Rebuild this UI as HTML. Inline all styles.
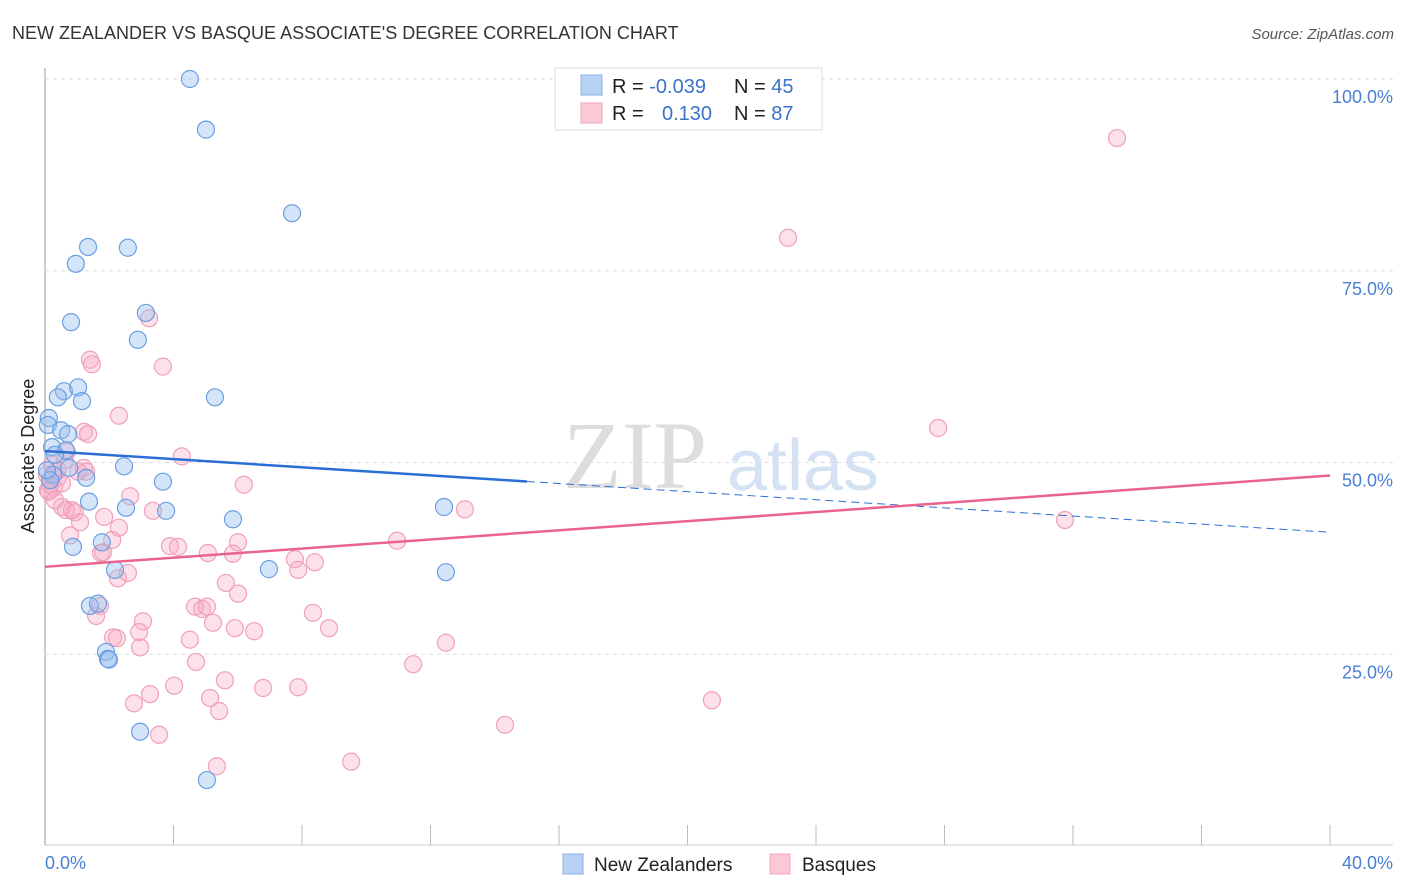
<!DOCTYPE html>
<html><head><meta charset="utf-8"><style>
body{margin:0;background:#fff;font-family:"Liberation Sans",sans-serif}
svg{display:block}
</style></head><body>
<svg id="c" width="1406" height="892">
<text x="12" y="39" font-size="18" fill="#333">NEW ZEALANDER VS BASQUE ASSOCIATE'S DEGREE CORRELATION CHART</text>
<text x="1394" y="39" font-size="15" fill="#555" font-style="italic" text-anchor="end">Source: ZipAtlas.com</text>
<text x="635" y="488" font-size="96" fill="#ddd" font-family="Liberation Serif,serif" text-anchor="middle">ZIP</text>
<text x="803" y="490" font-size="72" fill="#d4e2f4" text-anchor="middle">atlas</text>
<g id="grid"></g><g id="pts"></g><g id="lines"></g>
<text transform="translate(34,456) rotate(-90)" font-size="18" fill="#222" text-anchor="middle">Associate's Degree</text>
<g>
<rect x="555" y="68" width="267" height="62" fill="#fff" stroke="#ddd"/>
<rect x="581" y="75" width="21" height="20" fill="#b8d2f4" stroke="#8ab2e8"/>
<rect x="581" y="103" width="21" height="20" fill="#fcc8d6" stroke="#f0a6bc"/>
<text x="612" y="93" font-size="20" fill="#222">R = <tspan fill="#3a73cc">-0.039</tspan><tspan x="734">N = </tspan><tspan fill="#3a73cc">45</tspan></text>
<text x="612" y="120" font-size="20" fill="#222">R = <tspan x="662" fill="#3a73cc">0.130</tspan><tspan x="734">N = </tspan><tspan fill="#3a73cc">87</tspan></text>
</g>
<g>
<rect x="563" y="854" width="20" height="20" fill="#b8d2f4" stroke="#8ab2e8"/>
<text x="594" y="871" font-size="19" fill="#222">New Zealanders</text>
<rect x="770" y="854" width="20" height="20" fill="#fcc8d6" stroke="#f0a6bc"/>
<text x="802" y="871" font-size="19" fill="#222">Basques</text>
</g>
</svg>
<script>
const yTicks=[100,75,50,25];
const yTickLabels=["100.0%","75.0%","50.0%","25.0%"];
const xTicks=[0,4,8,12,16,20,24,28,32,36,40];
const blueX=[4.51,5.01,7.69,1.34,2.58,0.96,3.14,0.81,2.89,0.59,1.03,0.40,1.15,0.12,0.09,0.50,0.72,0.22,0.65,2.46,0.75,0.25,1.28,3.67,1.37,2.52,3.77,5.85,5.29,12.42,1.77,0.87,6.97,12.48,2.18,1.40,1.65,1.90,1.96,1.99,2.96,5.04,0.16,0.06,0.31];
const blueY=[100.0,93.4,82.5,78.1,78.0,75.9,69.5,68.3,66.0,59.3,59.8,58.5,58.0,55.8,54.9,54.2,53.7,52.0,51.6,49.5,49.3,48.4,48.0,47.5,44.9,44.1,43.7,42.6,58.5,44.2,39.6,39.0,36.1,35.7,36.0,31.3,31.6,25.3,24.4,24.3,14.9,8.6,47.7,49.0,51.0];
const pinkX=[33.37,23.13,3.24,1.40,1.46,3.67,2.30,1.21,1.34,4.26,27.80,0.68,1.21,1.03,0.40,0.16,0.28,0.12,0.53,6.19,2.65,0.53,0.65,0.93,3.36,13.07,31.75,1.09,1.84,2.30,2.09,0.78,6.01,3.89,4.14,10.96,1.74,5.07,5.85,7.78,8.40,7.88,2.27,5.63,6.01,4.67,4.89,5.04,1.71,1.59,3.05,8.34,5.23,5.91,6.51,8.84,2.93,2.12,2.24,4.51,2.96,12.48,4.70,11.46,5.60,4.02,6.79,7.88,3.27,5.14,2.77,5.42,20.76,14.32,3.55,5.35,9.53,0.06,0.22,0.40,0.84,2.58,0.09,0.31,1.81,1.28,0.62];
const pinkY=[92.3,79.3,68.8,63.4,62.8,62.5,56.1,54.0,53.7,50.8,54.5,51.4,49.3,48.8,48.0,47.1,46.7,46.2,47.3,47.1,45.6,44.2,43.8,43.5,43.7,43.9,42.5,42.2,42.9,41.5,39.9,40.5,39.6,39.1,39.0,39.8,38.2,38.2,38.1,37.4,37.0,36.0,34.9,34.3,32.9,31.2,30.9,31.2,31.3,30.0,29.3,30.4,29.1,28.4,28.0,28.4,27.9,27.2,27.1,26.9,25.9,26.5,24.0,23.7,21.6,20.9,20.6,20.7,19.8,19.3,18.6,17.6,19.0,15.8,14.5,10.4,11.0,48.4,49.7,49.0,43.8,35.6,46.4,45.1,38.3,48.8,50.3];
const blueTrend=[51.5,40.9], blueSolidEnd=15;
const pinkTrend=[36.4,48.3];
const NS="http://www.w3.org/2000/svg";
const X=v=>45+v/40*1285, Y=v=>846-v*7.67;
function mk(p,t,a){const e=document.createElementNS(NS,t);for(const k in a)e.setAttribute(k,a[k]);p.appendChild(e);return e;}
const g=document.getElementById('grid');
let ax=mk(g,'line',{x1:45,y1:68,x2:45,y2:845,stroke:'#bbb','stroke-width':1.5});


let bx=mk(g,'line',{x1:45,y1:845,x2:1393,y2:845,stroke:'#ccc','stroke-width':1});


yTicks.forEach((t,i)=>{
 const l=mk(g,'line',{x1:45,x2:1393,y1:Y(t),y2:Y(t),stroke:'#ddd','stroke-dasharray':'4,4'});
 
 
 const tx=mk(g,'text',{x:1393,y:Y(t)+24,'font-size':18,fill:'#4a7fd4','text-anchor':'end'});
 tx.textContent=yTickLabels[i];
 
 
});
xTicks.forEach(t=>{
 const l=mk(g,'line',{x1:X(t),x2:X(t),y1:825,y2:845,stroke:'#bbb'});
 
 
});
let x0=mk(g,'text',{x:45,y:869,'font-size':18,fill:'#4a7fd4'});x0.textContent='0.0%';


let x1=mk(g,'text',{x:1393,y:869,'font-size':18,fill:'#4a7fd4','text-anchor':'end'});x1.textContent='40.0%';


const p=document.getElementById('pts');
pinkX.forEach((v,i)=>{const c=mk(p,'circle',{cx:X(v),cy:Y(pinkY[i]),r:8.5,fill:'rgba(248,170,195,0.35)',stroke:'#f0a0b8','stroke-width':1.2});
 
 });
blueX.forEach((v,i)=>{const c=mk(p,'circle',{cx:X(v),cy:Y(blueY[i]),r:8.5,fill:'rgba(150,190,240,0.4)',stroke:'#6a9fe0','stroke-width':1.2});
 
 });
const L=document.getElementById('lines');
const by=x=>blueTrend[0]+(blueTrend[1]-blueTrend[0])*x/40;
let b1=mk(L,'line',{x1:X(0),y1:Y(by(0)),x2:X(blueSolidEnd),y2:Y(by(blueSolidEnd)),stroke:'#2a6fd6','stroke-width':2.5});


let b2=mk(L,'line',{x1:X(blueSolidEnd),y1:Y(by(blueSolidEnd)),x2:X(40),y2:Y(by(40)),stroke:'#2a6fd6','stroke-width':1,'stroke-dasharray':'8,5'});


let pl=mk(L,'line',{x1:X(0),y1:Y(pinkTrend[0]),x2:X(40),y2:Y(pinkTrend[1]),stroke:'#e8648e','stroke-width':2.5});


</script>
</body></html>
